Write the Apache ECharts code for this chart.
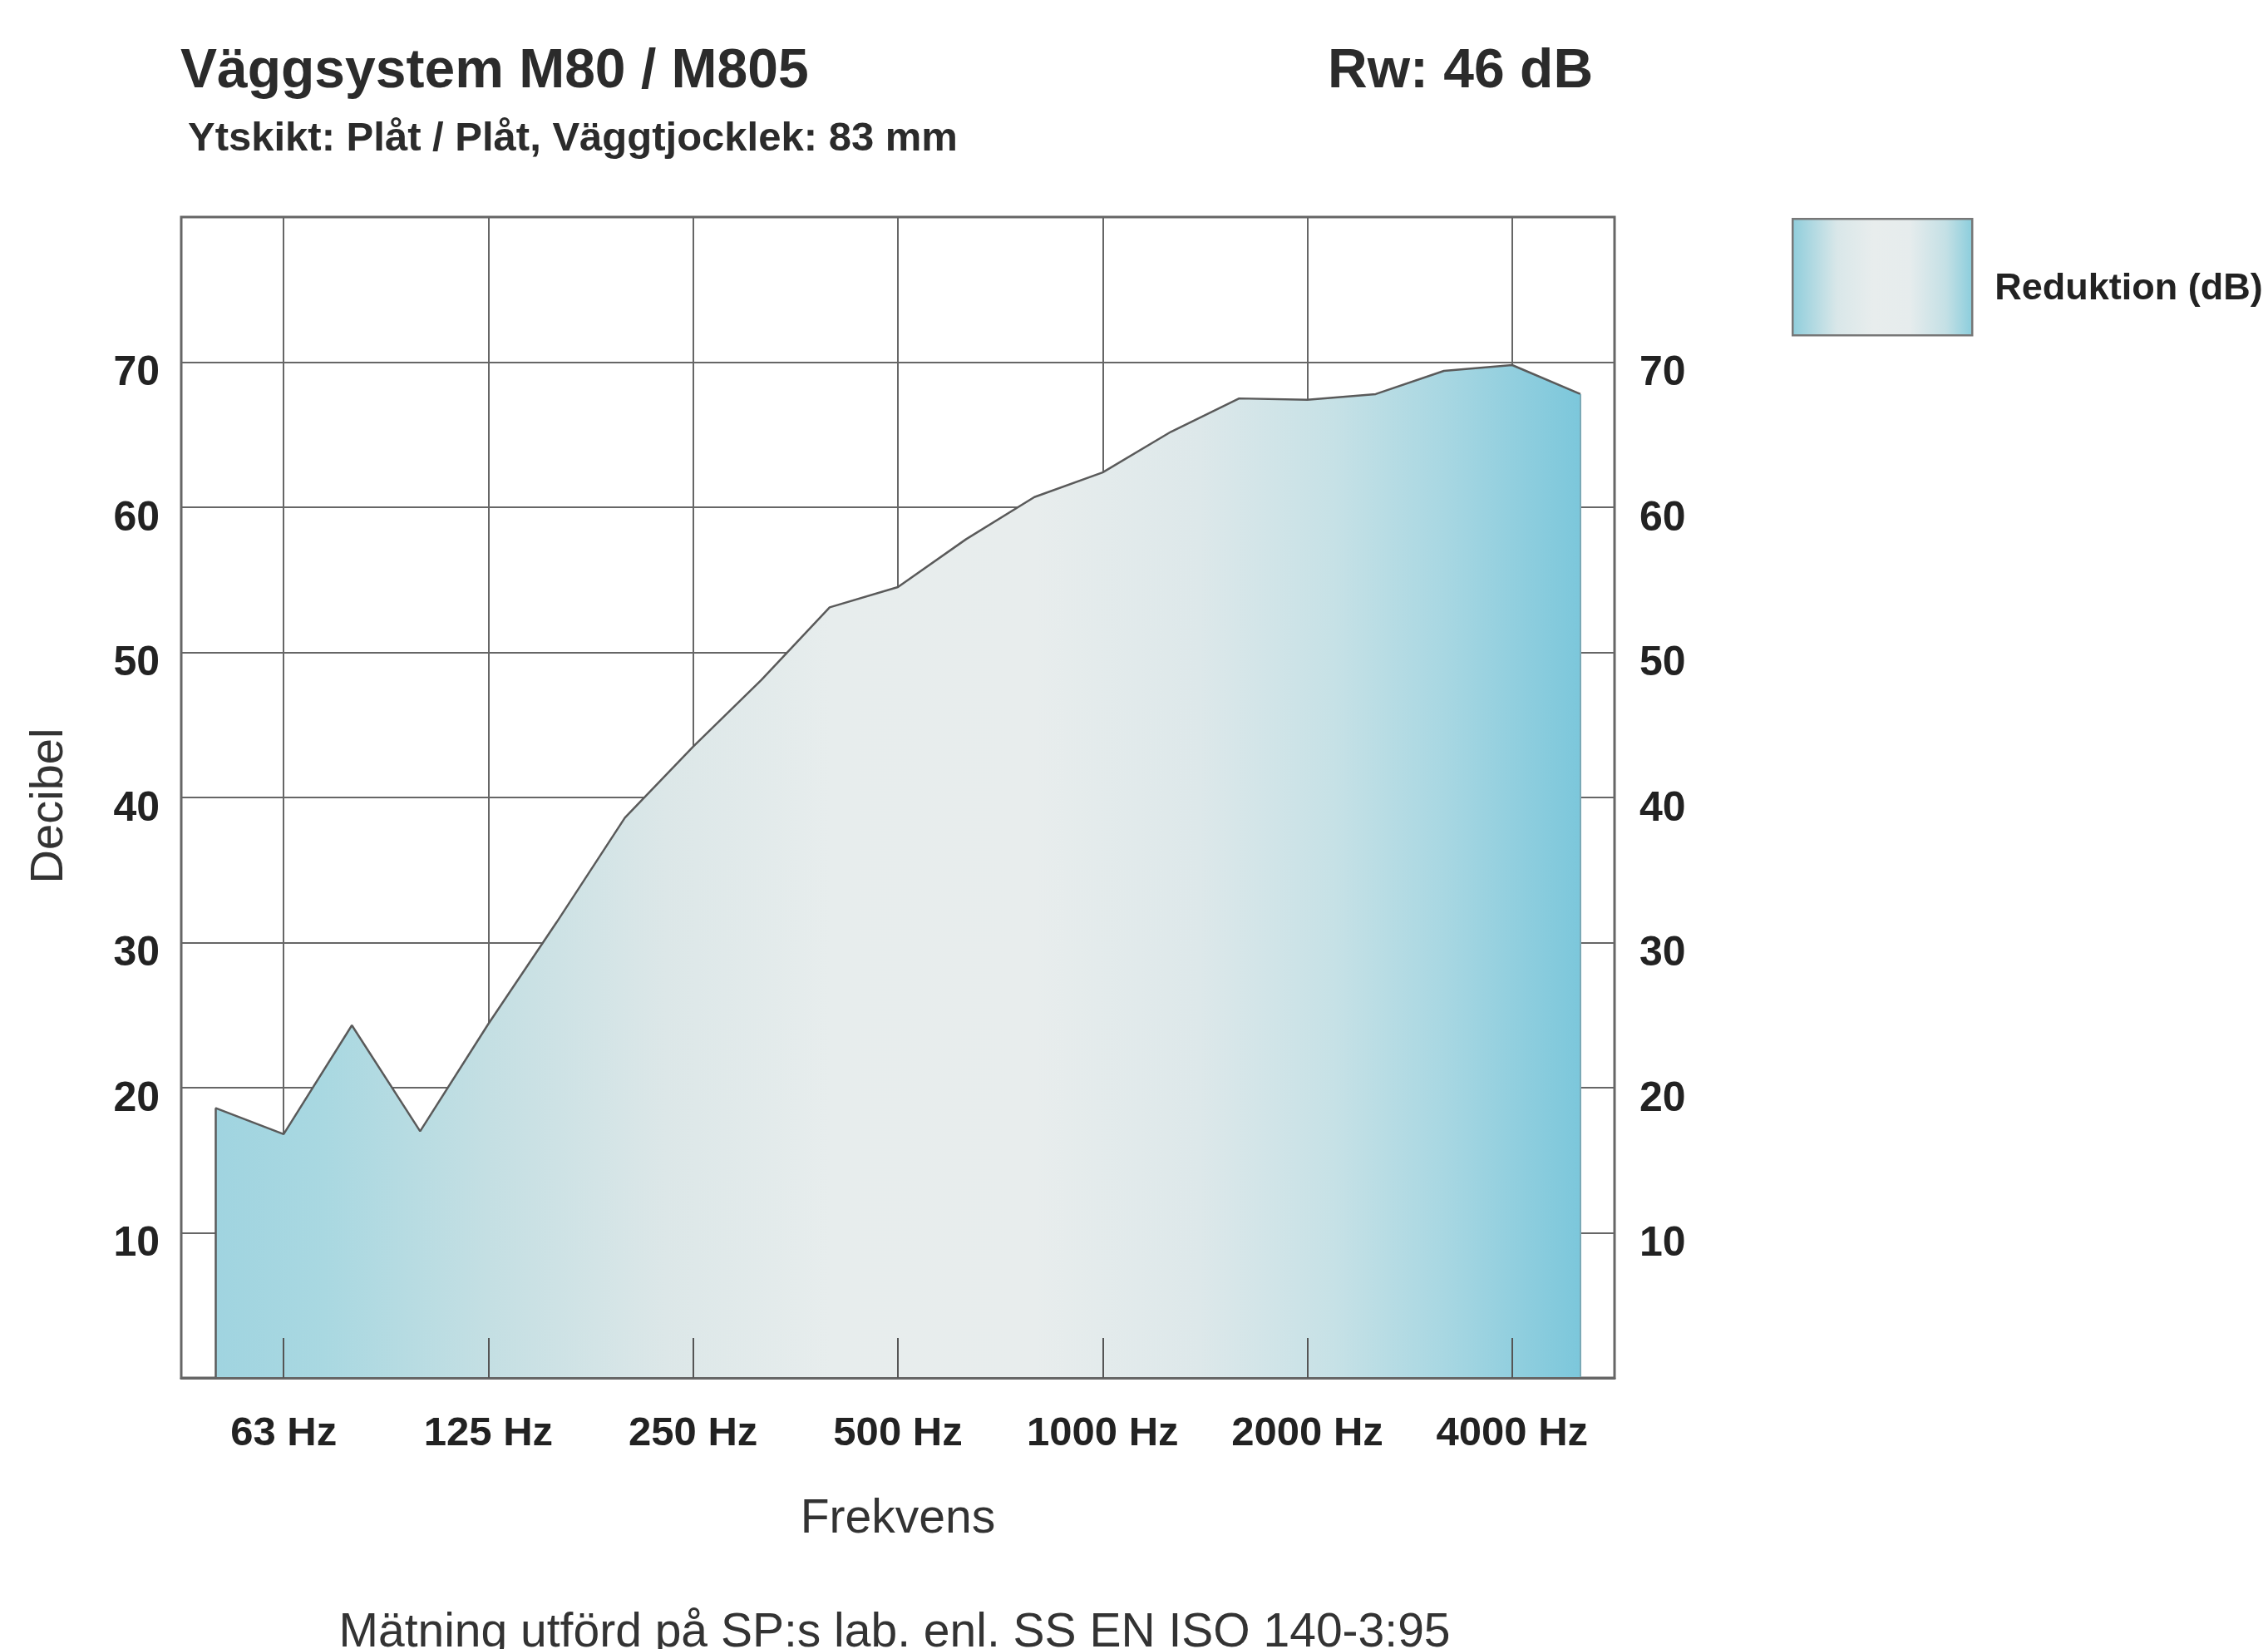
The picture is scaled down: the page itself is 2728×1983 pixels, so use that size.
<!DOCTYPE html>
<html>
<head>
<meta charset="utf-8">
<script src="https://cdn.jsdelivr.net/npm/echarts@6/dist/echarts.min.js"></script>
<style>
  html, body { margin: 0; padding: 0; background: #ffffff; }
  #chart { width: 2728px; height: 1983px; }
</style>
</head>
<body>
<div id="chart"></div>
<script>
// ---- data ----
const freqs = ['50','63','80','100','125','160','200','250','315','400','500','630','800','1000','1250','1600','2000','2500','3150','4000','5000'];
const reduction = [18.6,16.8,24.3,17.0,24.4,31.4,38.6,43.5,48.1,53.1,54.5,57.8,60.7,62.4,65.2,67.5,67.4,67.8,69.4,69.8,67.8];
const labelFreqs = ['63','125','250','500','1000','2000','4000'];
const yTicks = [10,20,30,40,50,60,70];
const titleText = 'Väggsystem M80 / M805';
const ratingText = 'Rw: 46 dB';
const subtitleText = 'Ytskikt: Plåt / Plåt, Väggtjocklek: 83 mm';
const footerText = 'Mätning utförd på SP:s lab. enl. SS EN ISO 140-3:95';
const seriesName = 'Reduktion (dB)';

// ---- build ----
const FONT = '"Liberation Sans", Arial, Helvetica, sans-serif';
const labelIdx = labelFreqs.map(f => freqs.indexOf(f));
const points = reduction.map((v, i) => [i, v]);
const lastIdx = freqs.length - 1;

const areaGradient = new echarts.graphic.LinearGradient(0, 0, 1, 0, [
  { offset: 0.00, color: '#a0d4e0' },
  { offset: 0.08, color: '#a9d8e1' },
  { offset: 0.20, color: '#c4dfe3' },
  { offset: 0.33, color: '#dce7e8' },
  { offset: 0.45, color: '#e7eded' },
  { offset: 0.60, color: '#e8eded' },
  { offset: 0.72, color: '#dde8ea' },
  { offset: 0.82, color: '#c6e1e6' },
  { offset: 0.90, color: '#a8d7e2' },
  { offset: 1.00, color: '#7cc7db' }
]);
const legendGradient = new echarts.graphic.LinearGradient(0, 0, 1, 0, [
  { offset: 0.00, color: '#8ecddb' },
  { offset: 0.25, color: '#d9e7e9' },
  { offset: 0.45, color: '#e8eded' },
  { offset: 0.65, color: '#e6eced' },
  { offset: 0.85, color: '#c4e0e5' },
  { offset: 1.00, color: '#89cddc' }
]);

const chart = echarts.init(document.getElementById('chart'), null, { renderer: 'canvas' });

const yLabelStyle = {
  showMinLabel: false, showMaxLabel: false,
  fontFamily: FONT, fontSize: 50, fontWeight: 'bold', color: '#222222',
  verticalAlign: 'top', lineHeight: 28,
  formatter: v => (yTicks.indexOf(v) >= 0 ? String(v) : '')
};

const option = {
  backgroundColor: '#ffffff',
  animation: false,
  grid: {
    left: 218, right: 786, top: 261, bottom: 326,
    show: true, borderColor: '#666666', borderWidth: 3, backgroundColor: 'transparent'
  },
  legend: {
    data: [seriesName],
    left: 2155, top: 262,
    padding: 0,
    icon: 'rect',
    itemWidth: 216, itemHeight: 140,
    itemStyle: { color: legendGradient, borderColor: '#777777', borderWidth: 2.5 },
    formatter: name => '{a|' + name + '}',
    textStyle: {
      fontFamily: FONT, fontSize: 45, fontWeight: 'bold', color: '#222222',
      padding: [28, 0, 0, 22],
      rich: { a: { fontFamily: FONT, fontSize: 45, fontWeight: 'bold', color: '#222222' } }
    }
  },
  xAxis: [
    {
      type: 'value', min: -0.5, max: lastIdx + 0.5,
      position: 'bottom',
      name: 'Frekvens', nameLocation: 'middle', nameGap: 142,
      nameTextStyle: { fontFamily: FONT, fontSize: 57, color: '#333333' },
      axisLine: { show: false },
      axisTick: { show: false, customValues: labelIdx },
      axisLabel: {
        customValues: labelIdx,
        margin: 43,
        fontFamily: FONT, fontSize: 49, fontWeight: 'bold', color: '#222222',
        formatter: v => freqs[Math.round(v)] + ' Hz'
      },
      splitLine: { show: true, lineStyle: { color: '#666666', width: 2 } }
    },
    {
      type: 'value', min: -0.5, max: lastIdx + 0.5,
      position: 'bottom', z: 10,
      axisLine: { show: true, onZero: false, lineStyle: { color: '#666666', width: 3 } },
      axisTick: { show: true, inside: true, length: 48, customValues: labelIdx, lineStyle: { color: '#555555', width: 2 } },
      axisLabel: { show: false },
      splitLine: { show: false }
    }
  ],
  yAxis: [
    {
      type: 'value', min: 0, max: 80, interval: 10,
      position: 'left',
      name: 'Decibel', nameLocation: 'middle', nameGap: 130, nameRotate: 90,
      nameTextStyle: { fontFamily: FONT, fontSize: 56, color: '#333333', padding: [0, 20, 0, 0] },
      axisLine: { show: false },
      axisTick: { show: false },
      axisLabel: Object.assign({ margin: 26 }, yLabelStyle),
      splitLine: { show: true, lineStyle: { color: '#666666', width: 2 } }
    },
    {
      type: 'value', min: 0, max: 80, interval: 10,
      position: 'right',
      axisLine: { show: false },
      axisTick: { show: false },
      axisLabel: Object.assign({ margin: 30 }, yLabelStyle),
      splitLine: { show: false }
    }
  ],
  series: [
    {
      name: seriesName,
      type: 'line',
      xAxisIndex: 0, yAxisIndex: 0,
      data: points,
      symbol: 'none',
      smooth: false,
      z: 3,
      lineStyle: { color: '#5a5a5a', width: 2.5 },
      itemStyle: { color: '#9fd3df' },
      areaStyle: { color: areaGradient, opacity: 1 },
      markLine: {
        silent: true,
        symbol: ['none', 'none'],
        label: { show: false },
        animation: false,
        data: [
          [{ coord: [0, 0], lineStyle: { color: '#5a5a5a', width: 2.5, type: 'solid' } }, { coord: [0, reduction[0]] }],
          [{ coord: [lastIdx, 0], lineStyle: { color: '#7aa9b6', width: 2, type: 'solid' } }, { coord: [lastIdx, reduction[lastIdx]] }]
        ]
      }
    }
  ],
  graphic: [
    { type: 'text', left: 217, top: 54, style: { text: titleText, fontFamily: FONT, fontSize: 66, fontWeight: 'bold', fill: '#2b2b2b' } },
    { type: 'text', left: 1597, top: 54, style: { text: ratingText, fontFamily: FONT, fontSize: 66, fontWeight: 'bold', fill: '#2b2b2b' } },
    { type: 'text', left: 226, top: 143, style: { text: subtitleText, fontFamily: FONT, fontSize: 49, fontWeight: 'bold', fill: '#2b2b2b' } },
    { type: 'text', x: 1076, y: 1964, style: { text: footerText, fontFamily: FONT, fontSize: 57, fill: '#333333', align: 'center', verticalAlign: 'middle' } }
  ]
};

chart.setOption(option);
</script>
</body>
</html>
